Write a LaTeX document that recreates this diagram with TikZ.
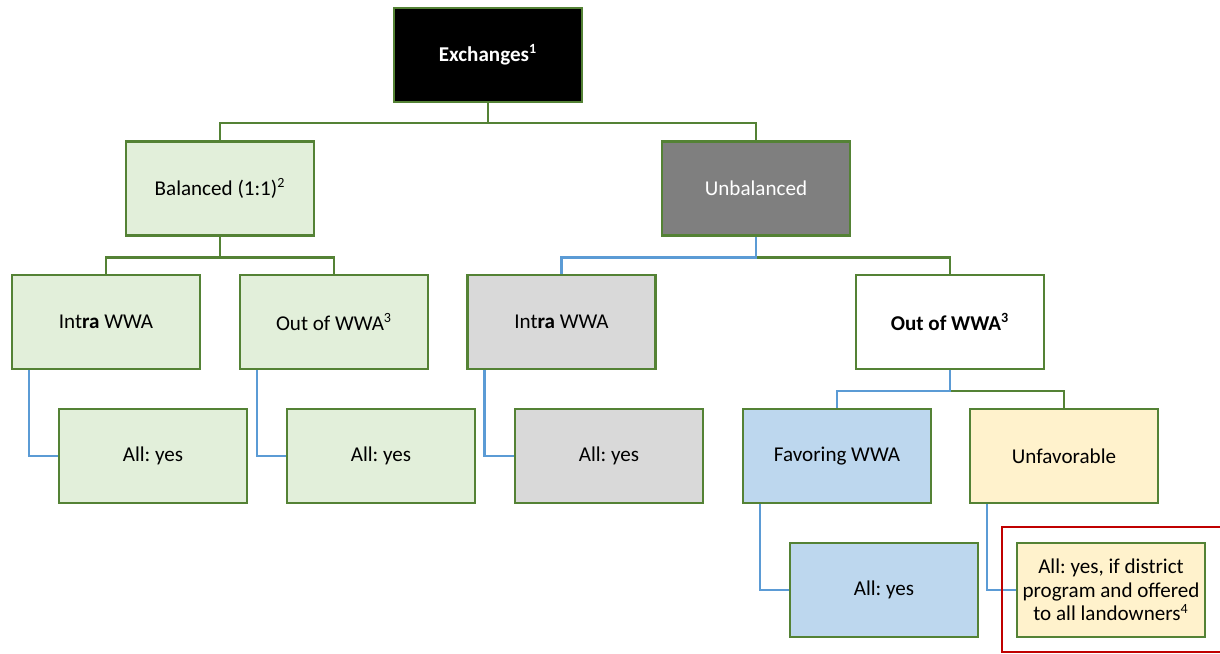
\documentclass[tikz,border=0pt]{standalone}
\usepackage{fontspec}
\setmainfont{Carlito}
\frenchspacing
\definecolor{leafgreen}{HTML}{548235}
\definecolor{linkblue}{HTML}{5B9BD5}
\definecolor{palegreen}{HTML}{E2EFDA}
\definecolor{palegray}{HTML}{D9D9D9}
\definecolor{darkgray}{HTML}{7F7F7F}
\definecolor{paleblue}{HTML}{BDD7EE}
\definecolor{paleyellow}{HTML}{FFF2CC}
\definecolor{boxred}{HTML}{C00000}
\begin{document}
\begin{tikzpicture}[x=0.02cm, y=-0.02cm, font=\fontsize{12}{13.7}\selectfont, line join=miter,
	box/.style={draw=leafgreen, line width=1.4pt, minimum width=3.76cm, minimum height=1.88cm, align=center, inner sep=2pt},
	gline/.style={draw=leafgreen, line width=1.4pt},
	bline/.style={draw=linkblue, line width=1.4pt}]
			\useasboundingbox (0,0) rectangle (1220,653);
			% levels
			\node[box, fill=black, text=white, font=\fontsize{12}{13.7}\selectfont\bfseries] (ex) at (488,55) {Exchanges\textsuperscript{1}};
			\node[box, fill=palegreen] (bal) at (220,188.5) {Balanced (1:1)\textsuperscript{2}};
			\node[box, fill=darkgray, text=white] (unb) at (756,188.5) {Unbalanced};
			\node[box, fill=palegreen] (intraA) at (106,322) {Int\textbf{ra} WWA};
			\node[box, fill=palegreen] (outA) at (334,322) {Out of WWA\textsuperscript{3}};
			\node[box, fill=palegray] (intraB) at (561.5,322) {Int\textbf{ra} WWA};
			\node[box, fill=white] (outB) at (950,322) {\textbf{Out of WWA\textsuperscript{3}}};
			\node[box, fill=palegreen] (allA) at (153,456) {All: yes};
			\node[box, fill=palegreen] (allB) at (381,456) {All: yes};
			\node[box, fill=palegray] (allC) at (609,456) {All: yes};
			\node[box, fill=paleblue] (fav) at (837,456) {Favoring WWA};
			\node[box, fill=paleyellow] (unf) at (1064,456) {Unfavorable};
			\node[box, fill=paleblue] (allD) at (884,590) {All: yes};
			\node[box, fill=paleyellow, font=\fontsize{12}{13.5}\selectfont] (allE) at (1111,590) {All: yes, if district\\program and offered\\to all landowners\textsuperscript{4}};
			% branches
			\draw[gline] (ex.south) -- ++(0,20) -| (bal.north) (ex.south) ++(0,20) -| (unb.north);
			\draw[gline] (bal.south) -- ++(0,21) -| (intraA.north) (bal.south) ++(0,21) -| (outA.north);
			\draw[gline] (unb.south) ++(0,21) -| (outB.north);
			\draw[bline] (unb.south) -- ++(0,21) -| (intraB.north);
			\draw[gline] (outB.south) ++(0,21) -| (unf.north);
			\draw[bline] (outB.south) -- ++(0,21) -| (fav.north);
			\foreach \a/\b in {intraA/allA,outA/allB,intraB/allC,fav/allD,unf/allE}
				\draw[bline] (\a.south west) ++(18,0) |- (\b.west);
			% highlight
			\draw[boxred, line width=1.4pt] (1002,527) rectangle (1230,652);
		\end{tikzpicture}
\end{document}
